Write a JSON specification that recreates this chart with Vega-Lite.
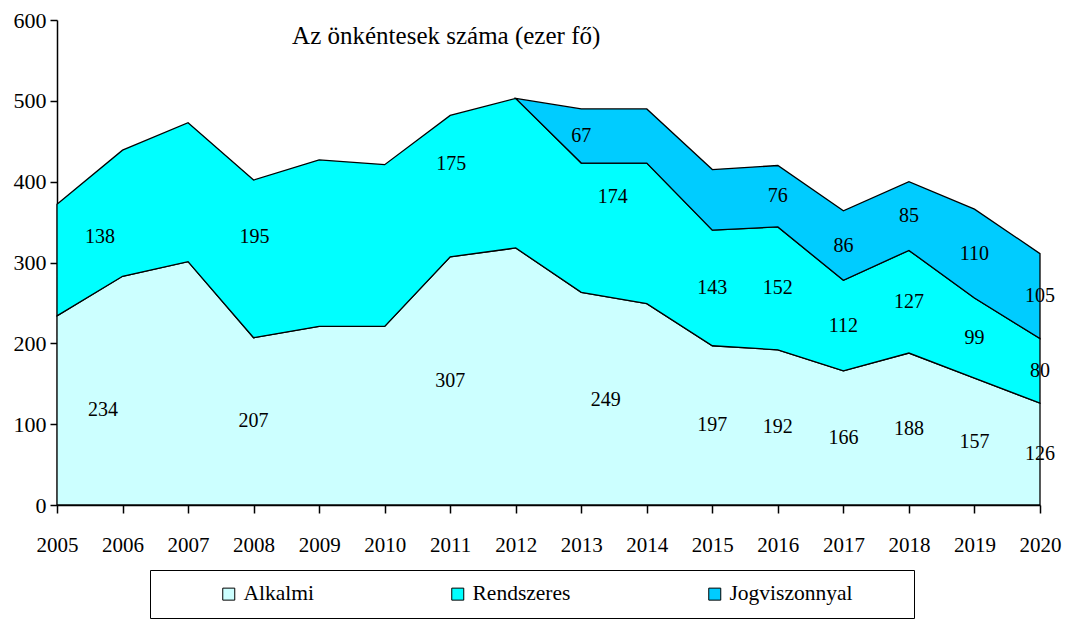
{
  "$schema": "https://vega.github.io/schema/vega-lite/v6.json",
  "autosize": {"type": "none"},
  "width": 983,
  "height": 485,
  "padding": {"left": 57, "top": 20, "right": 27, "bottom": 114},
  "background": "white",
  "config": {
    "view": {"stroke": null},
    "font": "Liberation Serif",
    "axis": {"labelFont": "Liberation Serif", "labelFontSize": 21, "labelColor": "black", "domainColor": "black", "tickColor": "black", "grid": false, "title": null, "domainWidth": 1.5, "tickWidth": 1.5},
    "legend": {"strokeColor": "black", "fillColor": "white"}
  },
  "data": {"values": [
    {"year": 2005, "series": "Alkalmi", "value": 234},
    {"year": 2006, "series": "Alkalmi", "value": 283},
    {"year": 2007, "series": "Alkalmi", "value": 301},
    {"year": 2008, "series": "Alkalmi", "value": 207},
    {"year": 2009, "series": "Alkalmi", "value": 221},
    {"year": 2010, "series": "Alkalmi", "value": 221},
    {"year": 2011, "series": "Alkalmi", "value": 307},
    {"year": 2012, "series": "Alkalmi", "value": 318},
    {"year": 2013, "series": "Alkalmi", "value": 263},
    {"year": 2014, "series": "Alkalmi", "value": 249},
    {"year": 2015, "series": "Alkalmi", "value": 197},
    {"year": 2016, "series": "Alkalmi", "value": 192},
    {"year": 2017, "series": "Alkalmi", "value": 166},
    {"year": 2018, "series": "Alkalmi", "value": 188},
    {"year": 2019, "series": "Alkalmi", "value": 157},
    {"year": 2020, "series": "Alkalmi", "value": 126},
    {"year": 2005, "series": "Rendszeres", "value": 138},
    {"year": 2006, "series": "Rendszeres", "value": 156},
    {"year": 2007, "series": "Rendszeres", "value": 172},
    {"year": 2008, "series": "Rendszeres", "value": 195},
    {"year": 2009, "series": "Rendszeres", "value": 206},
    {"year": 2010, "series": "Rendszeres", "value": 200},
    {"year": 2011, "series": "Rendszeres", "value": 175},
    {"year": 2012, "series": "Rendszeres", "value": 185},
    {"year": 2013, "series": "Rendszeres", "value": 160},
    {"year": 2014, "series": "Rendszeres", "value": 174},
    {"year": 2015, "series": "Rendszeres", "value": 143},
    {"year": 2016, "series": "Rendszeres", "value": 152},
    {"year": 2017, "series": "Rendszeres", "value": 112},
    {"year": 2018, "series": "Rendszeres", "value": 127},
    {"year": 2019, "series": "Rendszeres", "value": 99},
    {"year": 2020, "series": "Rendszeres", "value": 80},
    {"year": 2012, "series": "Jogviszonnyal", "value": 0},
    {"year": 2013, "series": "Jogviszonnyal", "value": 67},
    {"year": 2014, "series": "Jogviszonnyal", "value": 67},
    {"year": 2015, "series": "Jogviszonnyal", "value": 75},
    {"year": 2016, "series": "Jogviszonnyal", "value": 76},
    {"year": 2017, "series": "Jogviszonnyal", "value": 86},
    {"year": 2018, "series": "Jogviszonnyal", "value": 85},
    {"year": 2019, "series": "Jogviszonnyal", "value": 110},
    {"year": 2020, "series": "Jogviszonnyal", "value": 105}
  ]},
  "transform": [
    {"calculate": "indexof(['Alkalmi','Rendszeres','Jogviszonnyal'], datum.series)", "as": "k"},
    {"stack": "value", "groupby": ["year"], "sort": [{"field": "k", "order": "ascending"}], "as": ["v0", "v1"]},
    {"calculate": "(datum.v0 + datum.v1) / 2", "as": "mid"}
  ],
  "layer": [
    {
      "mark": {"type": "area", "stroke": "black", "strokeWidth": 1.3, "opacity": 1, "fillOpacity": 1},
      "encoding": {
        "x": {"field": "year", "type": "quantitative", "scale": {"domain": [2005, 2020], "nice": false, "zero": false},
              "axis": {"values": [2005,2006,2007,2008,2009,2010,2011,2012,2013,2014,2015,2016,2017,2018,2019,2020], "format": "d", "tickSize": 8, "labelPadding": 21, "labelFlush": false, "labelOverlap": false}},
        "y": {"field": "v1", "type": "quantitative", "scale": {"domain": [0, 600], "nice": false},
              "axis": {"values": [0,100,200,300,400,500,600], "tickSize": 7, "labelPadding": 4, "labelFontSize": 22}},
        "y2": {"field": "v0"},
        "color": {"field": "series", "type": "nominal",
                  "scale": {"domain": ["Alkalmi", "Rendszeres", "Jogviszonnyal"], "range": ["#CCFFFF", "#00FFFF", "#00CCFF"]},
                  "legend": {"orient": "none", "legendX": 93, "legendY": 550, "direction": "horizontal",
                             "title": "\u00a0\u200b", "titleOrient": "left", "titlePadding": 55, "titleFontSize": 20,
                             "symbolType": "square", "symbolSize": 144, "symbolStrokeColor": "black", "symbolStrokeWidth": 1, "symbolOpacity": 1,
                             "labelFont": "Liberation Serif", "labelFontSize": 21.5, "labelColor": "black", "labelOffset": 4, "labelLimit": 400,
                             "labelExpr": "datum.label == 'Jogviszonnyal' ? datum.label + '\u00a0\u00a0\u00a0\u00a0\u00a0\u00a0\u00a0\u00a0\u00a0\u200b' : datum.label",
                             "columnPadding": 133, "padding": 13, "strokeColor": "black", "fillColor": "white"}},
        "order": {"field": "k", "type": "quantitative"}
      }
    },
    {
      "transform": [{"filter": "datum.year >= 2015 || (datum.year == 2008 && datum.series == 'Alkalmi') || (datum.year == 2011 && datum.series == 'Alkalmi') || (datum.year == 2013 && datum.series == 'Jogviszonnyal')"},
                    {"filter": "!(datum.year == 2015 && datum.series == 'Jogviszonnyal')"}],
      "mark": {"type": "text", "font": "Liberation Serif", "fontSize": 20, "color": "black"},
      "encoding": {"x": {"field": "year", "type": "quantitative"}, "y": {"field": "mid", "type": "quantitative"}, "text": {"field": "value", "type": "quantitative"}}
    },
    {
      "transform": [{"filter": "datum.year == 2005 && datum.series == 'Alkalmi'"}],
      "mark": {"type": "text", "font": "Liberation Serif", "fontSize": 20, "color": "black", "dx": 46},
      "encoding": {"x": {"field": "year", "type": "quantitative"}, "y": {"field": "mid", "type": "quantitative"}, "text": {"field": "value", "type": "quantitative"}}
    },
    {
      "transform": [{"filter": "datum.year == 2005 && datum.series == 'Rendszeres'"}],
      "mark": {"type": "text", "font": "Liberation Serif", "fontSize": 20, "color": "black", "dx": 43, "dy": -23},
      "encoding": {"x": {"field": "year", "type": "quantitative"}, "y": {"field": "mid", "type": "quantitative"}, "text": {"field": "value", "type": "quantitative"}}
    },
    {
      "transform": [{"filter": "(datum.year == 2008 || datum.year == 2011) && datum.series == 'Rendszeres'"}],
      "mark": {"type": "text", "font": "Liberation Serif", "fontSize": 20, "color": "black", "dx": 1, "dy": -22},
      "encoding": {"x": {"field": "year", "type": "quantitative"}, "y": {"field": "mid", "type": "quantitative"}, "text": {"field": "value", "type": "quantitative"}}
    },
    {
      "transform": [{"filter": "datum.year == 2014 && datum.series == 'Alkalmi'"}],
      "mark": {"type": "text", "font": "Liberation Serif", "fontSize": 20, "color": "black", "dx": -41, "dy": -4},
      "encoding": {"x": {"field": "year", "type": "quantitative"}, "y": {"field": "mid", "type": "quantitative"}, "text": {"field": "value", "type": "quantitative"}}
    },
    {
      "transform": [{"filter": "datum.year == 2014 && datum.series == 'Rendszeres'"}],
      "mark": {"type": "text", "font": "Liberation Serif", "fontSize": 20, "color": "black", "dx": -34, "dy": -36},
      "encoding": {"x": {"field": "year", "type": "quantitative"}, "y": {"field": "mid", "type": "quantitative"}, "text": {"field": "value", "type": "quantitative"}}
    },
    {
      "data": {"values": [{"tx": 2011, "ty": 584, "label": "Az önkéntesek száma (ezer fő)"}]},
      "transform": [],
      "mark": {"type": "text", "font": "Liberation Serif", "fontSize": 25, "color": "black", "baseline": "middle", "align": "center", "dx": -4, "dy": 3},
      "encoding": {"x": {"field": "tx", "type": "quantitative"}, "y": {"field": "ty", "type": "quantitative"}, "text": {"field": "label"}}
    }
  ]
}
